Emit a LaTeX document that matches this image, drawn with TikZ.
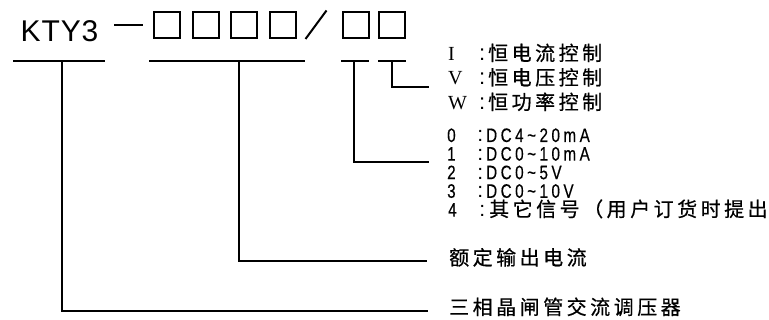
\documentclass[tikz,border=0pt]{standalone}
\usepackage{fontspec}
\setmainfont{Liberation Sans}
\newfontfamily\cjkfont{Noto Sans CJK SC}[LetterSpace=17.5,FakeBold=0.6]
\newfontfamily\seriffont{Liberation Serif}
\newfontfamily\narrowfont{Liberation Sans}[FakeStretch=0.78,LetterSpace=18,FakeBold=0.4]
\newfontfamily\titlefont{Liberation Sans}[LetterSpace=3]
\newcommand{\codeL}[1]{\makebox[28pt][l]{\seriffont #1}\makebox[12pt]{\fontsize{22}{22}\selectfont :}}
\newcommand{\codeN}[1]{\makebox[27pt][l]{\narrowfont #1}\makebox[12pt]{\fontsize{21}{21}\selectfont :}}
\begin{document}
\begin{tikzpicture}[x=1pt,y=-1pt,
  bar/.style={line width=1.8pt},
  codebox/.style={draw,line width=2pt,minimum size=26pt,inner sep=0pt},
  lbl/.style={anchor=base west,inner sep=0pt,text height=15pt,text depth=2pt,font=\fontsize{20}{20}\selectfont},
  dcl/.style={anchor=base west,inner sep=0pt,text height=14pt,text depth=1pt,font=\fontsize{19.5}{19.5}\selectfont},
]
\useasboundingbox[fill=white] (0,0) rectangle (769,320);
% title
\node[anchor=base west,inner sep=0pt,font=\titlefont\fontsize{30}{30}\selectfont] (kty) at (20.5,41.5) {KTY3};
\draw[line width=2pt] (114,25.5) -- (143,25.5);
\node[codebox] (b1) at (167,25) {};
\node[codebox] (b2) at (205.5,25) {};
\node[codebox] (b3) at (244,25) {};
\node[codebox] (b4) at (282.5,25) {};
\draw[line width=2pt] (305.5,39) -- (326.5,10.5);
\node[codebox] (b5) at (355.5,25) {};
\node[codebox] (b6) at (392,25) {};
% bars under the code
\coordinate (a1) at (13,61);  \coordinate (a2) at (105,61);
\coordinate (c1) at (149,61); \coordinate (c2) at (305,61);
\coordinate (d1) at (341,61); \coordinate (d2) at (369,61);
\coordinate (f1) at (378,61); \coordinate (f2) at (406,61);
\draw[bar] (a1) -- (a2);
\draw[bar] (c1) -- (c2);
\draw[bar] (d1) -- (d2);
\draw[bar] (f1) -- (f2);
\coordinate (ja) at (62,61);
\coordinate (jc) at (239,61);
\coordinate (jd) at (354,61);
\coordinate (jf) at (392,61);
% labels
\node[lbl] (rI) at (448,60.5) {\codeL{I}\cjkfont 恒电流控制};
\node[lbl] (rV) at (448,85) {\codeL{V}\cjkfont 恒电压控制};
\node[lbl] (rW) at (448,109.5) {\codeL{W}\cjkfont 恒功率控制};
\node[dcl] (r0) at (447,142) {\codeN{0}\narrowfont DC4\textasciitilde 20mA};
\node[dcl] (r1) at (447,160.6) {\codeN{1}\narrowfont DC0\textasciitilde 10mA};
\node[dcl] (r2) at (447,179.2) {\codeN{2}\narrowfont DC0\textasciitilde 5V};
\node[dcl] (r3) at (447,197.8) {\codeN{3}\narrowfont DC0\textasciitilde 10V};
\node[lbl] (r4) at (448,216.5) {\makebox[27pt][l]{\narrowfont\fontsize{19.5}{19.5}\selectfont 4}\makebox[14pt]{\fontsize{21}{21}\selectfont :}\cjkfont 其它信号（用户订货时提出};
\node[lbl] (rA) at (449,265) {\cjkfont 额定输出电流};
\node[lbl] (rT) at (449,314.5) {\cjkfont 三相晶闸管交流调压器};
% connector ends
\coordinate (ef) at (429,87);
\coordinate (ed) at (429,162);
\coordinate (ec) at (427,261);
\coordinate (ea) at (428,311);
\draw[bar] (jf) |- (ef);
\draw[bar] (jd) |- (ed);
\draw[bar] (jc) |- (ec);
\draw[bar] (ja) |- (ea);
\end{tikzpicture}
\end{document}
